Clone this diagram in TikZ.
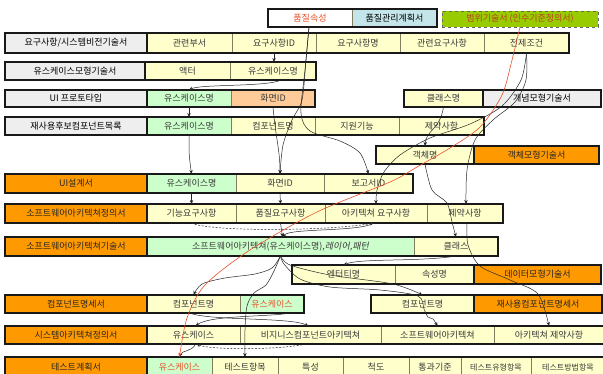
\documentclass[tikz,border=0pt]{standalone}
\usepackage{fontspec}
\setmainfont{Noto Sans CJK KR}[AutoFakeSlant=0.2]
\usetikzlibrary{arrows.meta}
\definecolor{yel}{HTML}{FFFFCC}
\definecolor{grn}{HTML}{CCFFCC}
\definecolor{org}{HTML}{FF9900}
\definecolor{gry}{HTML}{EEEEEE}
\definecolor{pch}{HTML}{FFCC99}
\definecolor{lblue}{HTML}{C4E6EA}
\definecolor{lime}{HTML}{99CC00}
\definecolor{redt}{HTML}{E8502A}
\definecolor{cline}{HTML}{7F7F60}
\definecolor{txt}{HTML}{3A3A3A}
\tikzset{
  cellbox/.style={draw=cline, line width=0.6pt, inner sep=0pt, outer sep=0pt,
    anchor=center, font=\fontsize{9}{10}\selectfont, text=txt},
  Y/.style={fill=yel}, G/.style={fill=grn}, O/.style={fill=org, text=black!85},
  L/.style={fill=gry, text=black}, P/.style={fill=pch},
  frame/.style={draw=black!90, line width=1.4pt},
  conn/.style={draw=black!85, line width=0.5pt, -{Stealth[length=4pt,width=3.4pt]}},
  dconn/.style={conn, dashed, dash pattern=on 2pt off 1.5pt},
  rconn/.style={draw=redt, line width=0.6pt, -{Stealth[length=4pt,width=3.4pt]}}
}
\newcommand\Cell[8][]{\node[cellbox,#7,#1,minimum width={(#4-#3)*1pt},minimum height={(#6-#5)*1pt}] (#2) at ({(#3+#4)/2},{(#5+#6)/2}) {#8};}
\newcommand\Frame[2]{\draw[frame] (#1.north west) rectangle (#2.south east);}
\begin{document}
\begin{tikzpicture}[x=1pt,y=-1pt]
\useasboundingbox[fill=white] (0,0) rectangle (603,373);
% top
\Cell[text=redt,fill=white]{qa}{268}{352}{9}{27}{Y}{품질속성}
\Cell[fill=lblue,text=black]{qp}{352}{437}{9}{27}{Y}{품질관리계획서}
\Frame{qa}{qp}
\Cell[draw=black!60,dashed,text=redt!80!black]{sc}{442}{598}{11}{27}{fill=lime}{범위기술서 (인수기준정의서)}
% row 2
\Cell{l2}{5}{147}{33}{53}{L}{요구사항/시스템비전기술서}
\Cell{c2a}{147}{232}{33}{53}{Y}{관련부서}
\Cell{c2b}{232}{316}{33}{53}{Y}{요구사항ID}
\Cell{c2c}{316}{400}{33}{53}{Y}{요구사항명}
\Cell{c2d}{400}{484}{33}{53}{Y}{관련요구사항}
\Cell{c2e}{484}{569}{33}{53}{Y}{전제조건}
\Frame{l2}{c2e}\Frame{l2}{l2}
% row 3
\Cell{l3}{5}{145}{62}{80}{L}{유스케이스모형기술서}
\Cell{c3a}{145}{230}{62}{80}{Y}{액터}
\Cell{c3b}{230}{316}{62}{80}{Y}{유스케이스명}
\Frame{l3}{c3b}\Frame{l3}{l3}
% row 4
\Cell{l4}{5}{147}{90}{107}{L}{UI 프로토타입}
\Cell{c4a}{147}{231}{90}{107}{G}{유스케이스명}
\Cell{c4b}{231}{315}{90}{107}{P}{화면ID}
\Frame{l4}{c4b}\Frame{l4}{l4}
\Cell{k4a}{404}{483}{90}{107}{Y}{클래스명}
\Cell{k4b}{483}{601}{90}{107}{L}{개념모형기술서}
\Frame{k4a}{k4b}\Frame{k4b}{k4b}
% row 5
\Cell{l5}{5}{147}{117}{135}{L}{재사용후보컴포넌트목록}
\Cell{c5a}{147}{231}{117}{135}{G}{유스케이스명}
\Cell{c5b}{231}{315}{117}{135}{Y}{컴포넌트명}
\Cell{c5c}{315}{399}{117}{135}{Y}{지원기능}
\Cell{c5d}{399}{484}{117}{135}{Y}{제약사항}
\Frame{l5}{c5d}\Frame{l5}{l5}
% row 6
\Cell{k6a}{376}{474}{146}{164}{Y}{객체명}
\Cell{k6b}{474}{599}{146}{164}{O}{객체모형기술서}
\Frame{k6a}{k6b}\Frame{k6b}{k6b}
% row 7
\Cell{l7}{5}{147}{174}{193}{O}{UI설계서}
\Cell{c7a}{147}{236}{174}{193}{G}{유스케이스명}
\Cell{c7b}{236}{324}{174}{193}{Y}{화면ID}
\Cell{c7c}{324}{413}{174}{193}{Y}{보고서ID}
\Frame{l7}{c7c}\Frame{l7}{l7}
% row 8
\Cell{l8}{5}{147}{204}{223}{O}{소프트웨어아키텍쳐정의서}
\Cell{c8a}{147}{236}{204}{223}{Y}{기능요구사항}
\Cell{c8b}{236}{325}{204}{223}{Y}{품질요구사항}
\Cell{c8c}{325}{427}{204}{223}{Y}{아키텍쳐 요구사항}
\Cell{c8d}{427}{503}{204}{223}{Y}{제약사항}
\Frame{l8}{c8d}\Frame{l8}{l8}
% row 9
\Cell{l9}{5}{147}{237}{256}{O}{소프트웨어아키텍쳐기술서}
\Cell{c9a}{147}{414}{237}{256}{G}{소프트웨어아키텍쳐(유스케이스명),\textit{레이어,패턴}}
\Cell{c9b}{414}{498}{237}{256}{Y}{클래스}
\Frame{l9}{c9b}\Frame{l9}{l9}
% row 10
\Cell{k10a}{292}{395}{265}{284}{Y}{엔터티명}
\Cell{k10b}{395}{474}{265}{284}{Y}{속성명}
\Cell{k10c}{474}{601}{265}{284}{O}{데이터모형기술서}
\Frame{k10a}{k10c}\Frame{k10c}{k10c}
% row 11
\Cell{l11}{5}{147}{295}{313}{O}{컴포넌트명세서}
\Cell{c11a}{147}{240}{295}{313}{Y}{컴포넌트명}
\Cell[text=redt]{c11b}{240}{304}{295}{313}{G}{유스케이스}
\Frame{l11}{c11b}\Frame{l11}{l11}
\Cell{k11a}{371}{474}{295}{313}{Y}{컴포넌트명}
\Cell{k11b}{474}{602}{295}{313}{O}{재사용컴포넌트명세서}
\Frame{k11a}{k11b}\Frame{k11b}{k11b}
% row 12
\Cell{l12}{5}{147}{326}{344}{O}{시스템아키텍쳐정의서}
\Cell{c12a}{147}{240}{326}{344}{Y}{유스케이스}
\Cell{c12b}{240}{381}{326}{344}{Y}{비지니스컴포넌트아키텍쳐}
\Cell{c12c}{381}{494}{326}{344}{Y}{소프트웨어아키텍쳐}
\Cell{c12d}{494}{604}{326}{344}{Y}{아키텍쳐 제약사항}
\Frame{l12}{c12d}\Frame{l12}{l12}
% row 13
\Cell{l13}{5}{147}{357}{378}{O}{테스트계획서}
\Cell[text=redt]{c13a}{147}{212}{357}{378}{G}{유스케이스}
\Cell{c13b}{212}{278}{357}{378}{Y}{테스트항목}
\Cell{c13c}{278}{343}{357}{378}{Y}{특성}
\Cell{c13d}{343}{409}{357}{378}{Y}{척도}
\Cell{c13e}{409}{461}{357}{378}{Y}{통과기준}
\Cell[font=\fontsize{8}{9}\selectfont]{c13f}{461}{531}{357}{378}{Y}{테스트유형항목}
\Cell[font=\fontsize{8}{9}\selectfont]{c13g}{531}{605}{357}{378}{Y}{테스트방법항목}
\Frame{l13}{c13g}\Frame{l13}{l13}
% connectors
\draw[conn] (c2b.south) -- (c2b.south |- c3b.north);
\draw[conn] ([xshift=8]c3b.south) .. controls (268,87) and (200,84) .. (c4a.north);
\draw[conn] (c4a.south) -- (c5a.north);
\draw[conn] (c5a.south) .. controls (189,155) .. (c7a.north);
\draw[conn] (c4b.south) .. controls (276,140) and (280,150) .. (c7b.north);
\draw[conn] plot[smooth] coordinates {([xshift=-1]qa.south) (306,60) (302,100) (292,120) (283,145) (c7b.north)};
\draw[conn] plot[smooth] coordinates {([xshift=-1]qa.south) (305,70) (301,113) (310,131) (340,141) (360,153) (c7c.north)};
\draw[conn] (c7a.south) -- (c8a.north);
\draw[conn] (c7b.south) -- (c8b.north);
\draw[conn] plot[smooth] coordinates {(c2e.south) (521,80) (502,106) (470,124) (430,138) (400,155) (384,172) (377,190) (c8c.north)};
\draw[conn] plot[smooth] coordinates {(c2e.south) (526,80) (515,102) (493,120) (475,140) (467,170) ([xshift=1]c8d.north)};
\draw[conn] (k4a.south) .. controls (440,130) and (426,130) .. (k6a.north);
\draw[conn] plot[smooth] coordinates {(k6a.south) (432,190) (447,203) (452,222) (c9b.north)};
\draw[dconn] (c8a.south) .. controls (210,232) and (330,231) .. ([xshift=-2]c8c.south);
\draw[conn] ([xshift=-2]c8c.south) .. controls (360,232) and (290,228) .. ([xshift=2]c9a.north);
\draw[conn] (c8b.south) -- ([xshift=2]c9a.north);
\draw[conn] (c9b.south) .. controls (420,262) and (360,258) .. (k10a.north);
\draw[conn] plot[smooth] coordinates {([xshift=2]c8d.south) (468,245) (480,266) (510,280) (538,294) (c12d.north)};
\draw[conn] plot[smooth] coordinates {(c9a.south) (290,265) (330,275) (393,284) (k11a.north)};
\draw[conn] plot[smooth] coordinates {(c9a.south) (274,271) (266,285) (254,293) (247,306) (245,330) (c13b.north)};
\draw[conn] plot[smooth] coordinates {(c9a.south) (272,268) (255,274) (225,278) (202,284) (c11a.north)};
\draw[conn] plot[smooth] coordinates {(c9a.south) (284,264) (300,279) (330,287) (380,290) (418,296) (424,309) (428,317) (433,319) (c12c.north)};
\draw[conn] ([xshift=50]c11b.south west) .. controls (270,317) and (210,315) .. ([xshift=2]c12a.north);
\draw[conn] ([xshift=-4]c11a.south) .. controls (210,321) and (290,317) .. ([xshift=-2]c12b.north);
\draw[conn] ([xshift=2]c12a.south) .. controls (192,352) and (182,350) .. (c13a.north);
\draw[dconn] ([xshift=-5]c12b.south) .. controls (280,350) and (210,350) .. ([xshift=3]c12a.south);
\draw[rconn] plot[smooth] coordinates {(sc.south) (512,60) (502,95) (480,127) (450,148) (417,167) (390,182) (317,212) (250,250) (205,285) (187,318) (c13a.north)};
\end{tikzpicture}
\end{document}
